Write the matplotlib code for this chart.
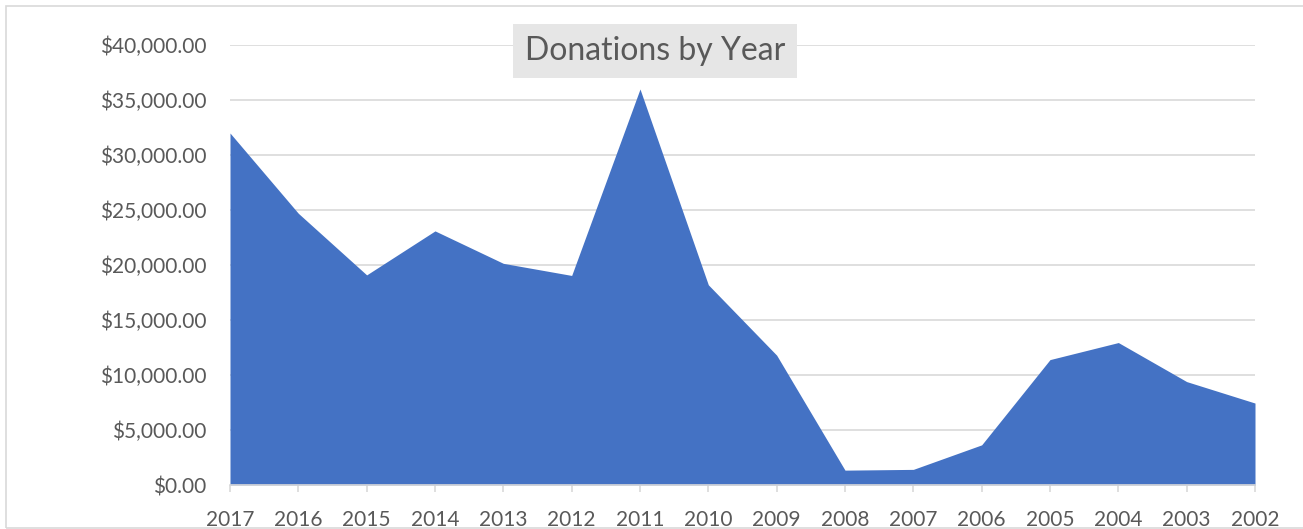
import matplotlib.pyplot as plt
from matplotlib.patches import Rectangle
from matplotlib.ticker import FuncFormatter

# DATA
years = ['2017', '2016', '2015', '2014', '2013', '2012', '2011', '2010',
         '2009', '2008', '2007', '2006', '2005', '2004', '2003', '2002']
donations = [32000, 24700, 19100, 23100, 20150, 19050, 36000, 18200,
             11800, 1350, 1420, 3650, 11400, 12950, 9400, 7450]

# STYLE
FILL = '#4472C4'
GRID = '#d9d9d9'
TEXT = '#595959'
plt.rcParams['font.family'] = ['Lato', 'DejaVu Sans']

W, H = 1303, 529
fig = plt.figure(figsize=(W / 100, H / 100), dpi=100)

# chart border (cropped on the right)
fig.patches.append(Rectangle((6 / W, 1.5 / H), 1.2, (H - 7.5) / H,
                             transform=fig.transFigure, fill=False,
                             edgecolor=GRID, linewidth=1.2))

ax = fig.add_axes([230 / W, 44 / H, 1025 / W, 440 / H])
x = list(range(len(years)))
ax.fill_between(x, donations, 0, color=FILL, linewidth=0, zorder=2)

ax.set_xlim(0, len(years) - 1)
ax.set_ylim(0, 40000)
ax.set_yticks(range(0, 40001, 5000))
ax.yaxis.set_major_formatter(FuncFormatter(lambda v, p: f'${v:,.2f}'))
ax.set_xticks(x)
ax.set_xticklabels(years)

ax.grid(axis='y', color=GRID, linewidth=1.2, zorder=1)
ax.set_axisbelow(True)
for s in ['top', 'right', 'left']:
    ax.spines[s].set_visible(False)
ax.spines['bottom'].set_color(GRID)
ax.spines['bottom'].set_linewidth(1.2)
ax.spines['bottom'].set_zorder(3)

ax.tick_params(axis='y', length=0, pad=17, labelsize=15, labelcolor=TEXT)
ax.tick_params(axis='x', length=5, width=1.2, color=GRID, pad=13,
               labelsize=15, labelcolor=TEXT)

fig.text(655 / W, 1 - 51 / H, 'Donations by Year', ha='center', va='center',
         fontsize=23, color=TEXT,
         bbox=dict(facecolor='#e6e6e6', edgecolor='none', pad=8.5))

plt.savefig('out.png', dpi=100)
